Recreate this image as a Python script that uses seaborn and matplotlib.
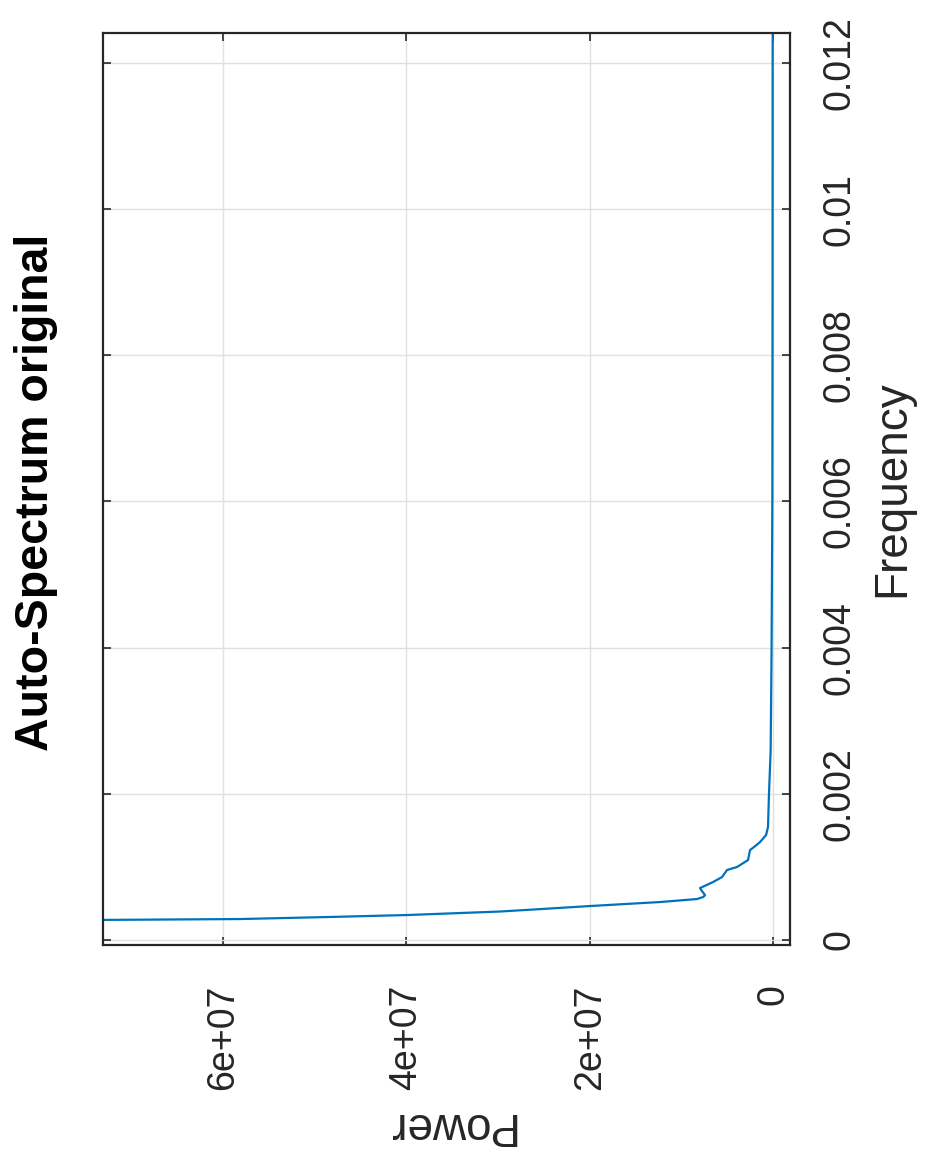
import matplotlib
matplotlib.use("Agg")
import matplotlib.pyplot as plt
import seaborn as sns
import pandas as pd

# Auto-spectrum of the original series (frequency vs. power)
frequency = [0.0, 0.000262, 0.000287, 0.000315, 0.000342, 0.000390, 0.000430,
             0.000465, 0.000520, 0.000561, 0.000590, 0.000616, 0.000660,
             0.000711, 0.000793, 0.000862, 0.000958, 0.000999, 0.001094,
             0.001231, 0.001290, 0.001341, 0.001436, 0.001546, 0.002011,
             0.002600, 0.003967, 0.006020, 0.008500, 0.012600]
power = [1.6e8, 9.0e7, 5.82e7, 4.85e7, 3.99e7, 2.98e7, 2.45e7,
         2.00e7, 1.23e7, 8.29e6, 7.60e6, 7.42e6, 7.70e6,
         7.97e6, 6.55e6, 5.56e6, 5.02e6, 3.93e6, 2.73e6,
         2.51e6, 1.90e6, 1.42e6, 7.6e5, 5.5e5, 4.4e5,
         2.6e5, 1.6e5, 7.6e4, 5.5e4, 4.0e4]

power_ticks = [0, 2e7, 4e7, 6e7]
power_labels = ["0", "2e+07", "4e+07", "6e+07"]
freq_ticks = [0, 0.002, 0.004, 0.006, 0.008, 0.010, 0.012]
freq_labels = ["0", "0.002", "0.004", "0.006", "0.008", "0.01", "0.012"]

title_text = "Auto-Spectrum original"
xlabel_text = "Frequency"
ylabel_text = "Power"

sns.set_theme(style="white")
plt.rcParams["font.family"] = ["Liberation Sans", "DejaVu Sans"]

df = pd.DataFrame({"frequency": frequency, "power": power})

W, H = 930, 1152
fig = plt.figure(figsize=(W / 100, H / 100), dpi=100)
fig.patch.set_facecolor("white")
ax = fig.add_axes([103 / W, 1 - 945 / H, (790 - 103) / W, (945 - 33) / H])
ax.set_facecolor("white")

# Layout turned a quarter: power runs right-to-left, frequency bottom-to-top
sns.lineplot(data=df, x="power", y="frequency", sort=False, estimator=None,
             orient="y", color="#0072BD", linewidth=1.6, ax=ax)

ax.set_xlim(7.31e7, -1.85e6)
ax.set_ylim(-6.8e-5, 0.01241)

ax.set_xticks(power_ticks)
ax.set_xticklabels(power_labels, rotation=90, ha="center", va="top")
ax.set_yticks(freq_ticks)
ax.set_yticklabels(freq_labels, rotation=90, ha="left", va="center")
ax.yaxis.tick_right()
ax.set_xlabel("")
ax.set_ylabel("")

ax.tick_params(axis="both", direction="in", length=5.5, width=1.2,
               color="#262626", labelsize=27, labelcolor="#262626",
               top=True, bottom=True, left=True, right=True)
ax.tick_params(axis="x", pad=28.5, labelbottom=True, labeltop=False)
ax.tick_params(axis="y", pad=23, labelright=True, labelleft=False)

ax.grid(True, color="#e0e0e0", linewidth=1.0)
ax.set_axisbelow(True)
for side in ax.spines.values():
    side.set_visible(True)
    side.set_color("#262626")
    side.set_linewidth(1.6)

fig.text(14 / W, 1 - 492 / H, title_text, rotation=90, ha="left", va="center",
         fontsize=33.5, fontweight="bold", color="black")
fig.text(870 / W, 1 - 489 / H, xlabel_text, rotation=90, ha="left",
         va="center", fontsize=33, color="#262626")
fig.text(449 / W, 1 - 1125 / H, ylabel_text, rotation=180, ha="center",
         va="center", fontsize=33, color="#262626")

fig.savefig("out.png", dpi=100, facecolor="white")
